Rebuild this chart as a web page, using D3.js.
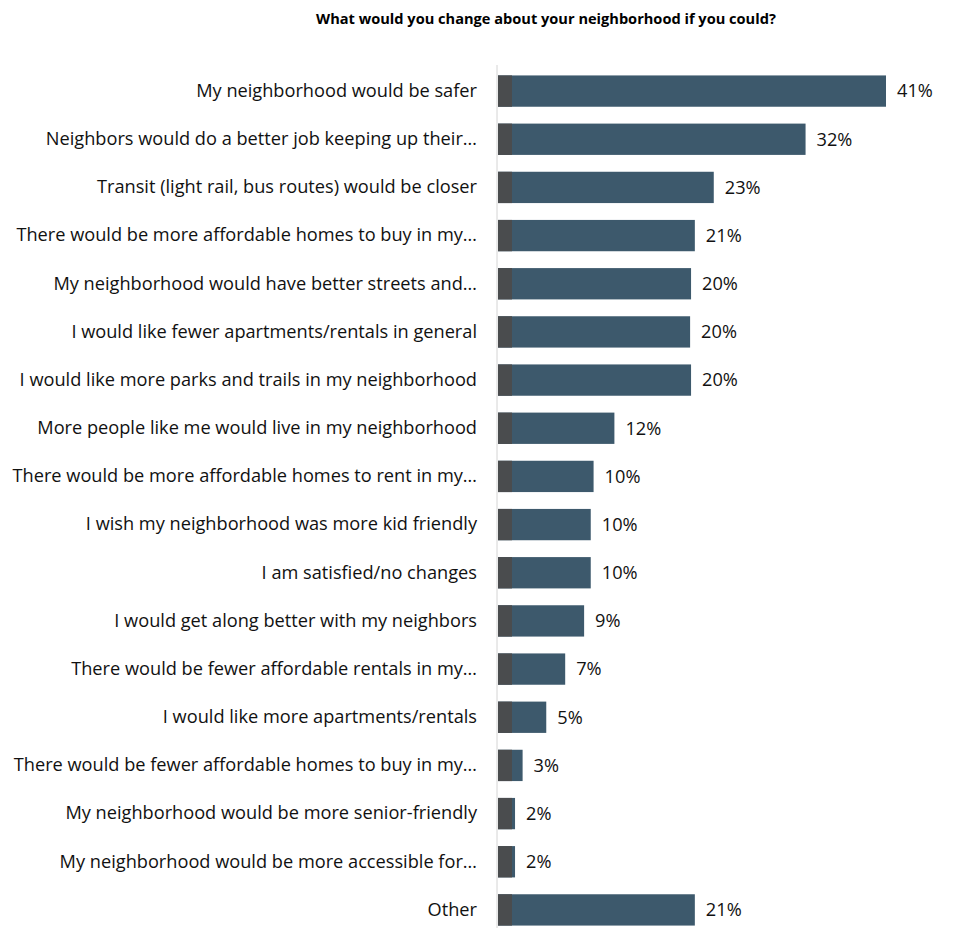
<!DOCTYPE html>
<html><head><meta charset="utf-8">
<script src="https://cdn.jsdelivr.net/npm/d3@7"></script>
<style>body{margin:0;background:#fff}</style>
</head><body>
<svg id="c" width="953" height="930"></svg>
<script>
const title = "What would you change about your neighborhood if you could?";
const categories = [
  "My neighborhood would be safer",
  "Neighbors would do a better job keeping up their…",
  "Transit (light rail, bus routes) would be closer",
  "There would be more affordable homes to buy in my…",
  "My neighborhood would have better streets and…",
  "I would like fewer apartments/rentals in general",
  "I would like more parks and trails in my neighborhood",
  "More people like me would live in my neighborhood",
  "There would be more affordable homes to rent in my…",
  "I wish my neighborhood was more kid friendly",
  "I am satisfied/no changes",
  "I would get along better with my neighbors",
  "There would be fewer affordable rentals in my…",
  "I would like more apartments/rentals",
  "There would be fewer affordable homes to buy in my…",
  "My neighborhood would be more senior-friendly",
  "My neighborhood would be more accessible for…",
  "Other"
];
const values = [41.0, 32.5, 22.8, 20.8, 20.4, 20.3, 20.4, 12.3, 10.1, 9.8, 9.8, 9.1, 7.1, 5.1, 2.6, 1.8, 1.8, 20.8];
const valueLabels = ["41%","32%","23%","21%","20%","20%","20%","12%","10%","10%","10%","9%","7%","5%","3%","2%","2%","21%"];

const svg = d3.select("#c");
const font = "'Open Sans', sans-serif";
const x0 = 498;
const x = d3.scaleLinear().domain([0, 41]).range([x0, 886]);
const y = d3.scaleBand().domain(categories).range([67, 934]).paddingInner(0.35).paddingOuter(0.175);

svg.append("text").attr("x", 546).attr("y", 24).attr("text-anchor", "middle")
  .attr("font-family", font).attr("font-size", 14.6).attr("font-weight", "bold").attr("fill", "#000")
  .text(title);

const g = svg.append("g");
g.selectAll("rect.bar").data(categories).join("rect").attr("class", "bar")
  .attr("x", x0).attr("y", d => y(d)).attr("height", y.bandwidth())
  .attr("width", (d, i) => x(values[i]) - x0).attr("fill", "#3d596c");
g.selectAll("rect.cap").data(categories).join("rect").attr("class", "cap")
  .attr("x", x0).attr("y", d => y(d)).attr("height", y.bandwidth())
  .attr("width", (d, i) => Math.min(14, x(values[i]) - x0)).attr("fill", "#4a4c4e");

// axis
const axis = d3.axisLeft(y).tickSize(0).tickPadding(20);
const ag = svg.append("g").attr("transform", `translate(${x0 - 1},0)`).call(axis);
ag.select(".domain").attr("stroke", "#d4d4d4").attr("d", `M0,65V928`);
ag.selectAll("text").attr("font-family", font).attr("font-size", 18.2).attr("fill", "#111");

g.selectAll("text.val").data(categories).join("text").attr("class", "val")
  .attr("x", (d, i) => x(values[i]) + 11).attr("y", d => y(d) + y.bandwidth() / 2)
  .attr("dy", "0.35em").attr("font-family", font).attr("font-size", 18.2).attr("fill", "#111")
  .text((d, i) => valueLabels[i]);
</script>
</body></html>
